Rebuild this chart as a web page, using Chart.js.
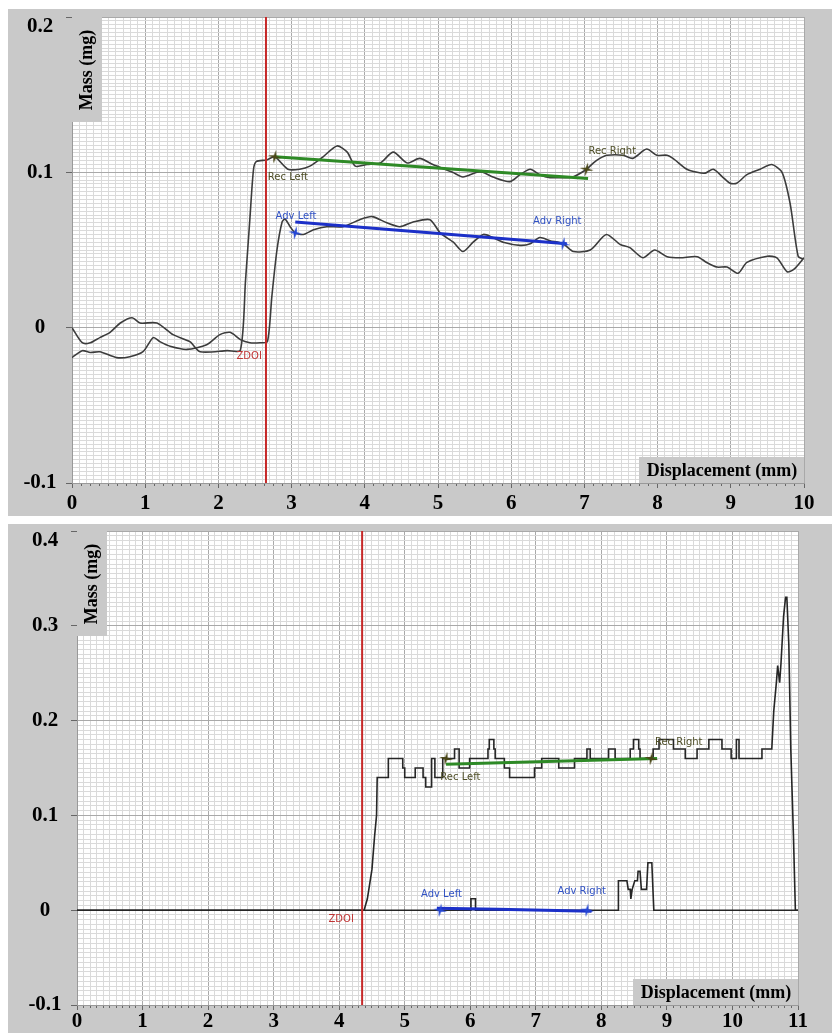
<!DOCTYPE html>
<html>
<head>
<meta charset="utf-8">
<script src="https://cdn.jsdelivr.net/npm/chart.js@4.4.1/dist/chart.umd.min.js"></script>
<style>
    body { margin: 0; background: #fff; width: 832px; height: 1033px; position: relative; overflow: hidden; }
    canvas { position: absolute; background: #c9c9c9; }
    #chartTop { left: 8px; top: 9px; }
    #chartBottom { left: 8px; top: 524px; }
</style>
</head>
<body>
<canvas id="chartTop" width="824" height="507"></canvas>
<canvas id="chartBottom" width="824" height="509"></canvas>
<script>
// ---------- top test : [displacement mm, mass mg] ----------
const topRecede = [
    [0, 0], [0.14, -0.0097], [0.25, -0.0097], [0.38, -0.0064], [0.52, -0.003], [0.66, 0.003],
    [0.82, 0.0064], [0.93, 0.003], [1.16, 0.003], [1.38, -0.0045], [1.61, -0.009], [1.75, -0.0155],
    [2.12, -0.0148], [2.30, -0.0145], [2.37, 0.03], [2.43, 0.07], [2.48, 0.102], [2.52, 0.107],
    [2.66, 0.108], [2.77, 0.110], [2.95, 0.102], [3.11, 0.102], [3.25, 0.104], [3.43, 0.110],
    [3.62, 0.117], [3.76, 0.113], [3.87, 0.104], [4.03, 0.105], [4.21, 0.106], [4.39, 0.113],
    [4.58, 0.106], [4.75, 0.109], [4.93, 0.105], [5.20, 0.100], [5.34, 0.097], [5.53, 0.100],
    [5.61, 0.100], [5.75, 0.097], [5.98, 0.094], [6.12, 0.0985], [6.26, 0.102], [6.39, 0.0985],
    [6.53, 0.0966], [6.71, 0.0966], [6.84, 0.097], [7.03, 0.102], [7.12, 0.106], [7.21, 0.109],
    [7.31, 0.111], [7.53, 0.111], [7.66, 0.109], [7.85, 0.115], [7.99, 0.111], [8.13, 0.111],
    [8.21, 0.109], [8.40, 0.102], [8.54, 0.100], [8.65, 0.0995], [8.76, 0.102], [8.90, 0.0965],
    [8.99, 0.093], [9.08, 0.093], [9.22, 0.0985], [9.40, 0.102], [9.56, 0.105], [9.70, 0.100],
    [9.81, 0.080], [9.92, 0.046], [9.99, 0.044]
];
const topAdvance = [
    [0, -0.0193], [0.14, -0.0148], [0.25, -0.016], [0.38, -0.0155], [0.61, -0.0193], [0.79, -0.0187],
    [0.97, -0.0155], [1.11, -0.0064], [1.20, -0.009], [1.34, -0.012], [1.57, -0.014], [1.84, -0.011],
    [2.02, -0.0045], [2.16, -0.003], [2.30, -0.0077], [2.43, -0.0097], [2.57, -0.0097], [2.67, -0.009],
    [2.73, 0.02], [2.80, 0.05], [2.87, 0.068], [2.91, 0.070], [2.98, 0.065], [3.05, 0.061],
    [3.16, 0.060], [3.30, 0.063], [3.48, 0.065], [3.70, 0.065], [3.93, 0.0695], [4.10, 0.0715],
    [4.30, 0.0675], [4.48, 0.065], [4.66, 0.068], [4.89, 0.0695], [5.03, 0.061], [5.21, 0.055],
    [5.34, 0.049], [5.48, 0.055], [5.62, 0.060], [5.75, 0.058], [5.89, 0.055], [6.12, 0.053],
    [6.26, 0.054], [6.39, 0.058], [6.53, 0.056], [6.71, 0.054], [6.85, 0.049], [7.08, 0.050],
    [7.30, 0.060], [7.49, 0.0535], [7.62, 0.0515], [7.80, 0.045], [7.96, 0.050], [8.13, 0.0457],
    [8.31, 0.045], [8.54, 0.0457], [8.67, 0.042], [8.81, 0.039], [8.95, 0.039], [9.10, 0.035],
    [9.22, 0.042], [9.50, 0.046], [9.63, 0.045], [9.77, 0.036], [9.86, 0.0375], [10.0, 0.045]
];
const topRecFit = [[2.77, 0.110], [7.05, 0.096]];
const topAdvFit = [[3.05, 0.068], [6.76, 0.054]];
const topRecMarks = [[2.77, 0.110], [7.03, 0.102]];
const topAdvMarks = [[3.05, 0.061], [6.71, 0.054]];
const topZdoi = 2.65;
const topNotes = [
    ['Rec Left', 2.95, 0.0966], ['Rec Right', 7.38, 0.1133],
    ['Adv Left', 3.06, 0.0715], ['Adv Right', 6.63, 0.0683], ['ZDOI', 2.42, -0.0187]
];

// ---------- bottom test ----------
const bottomRecede = [
    [0, 0], [4.38, 0], [4.43, 0.012], [4.50, 0.043], [4.54, 0.078], [4.57, 0.10], [4.58, 0.14],
    [4.75, 0.14], [4.75, 0.16], [4.97, 0.16], [4.97, 0.15], [5.00, 0.15], [5.00, 0.14], [5.16, 0.14],
    [5.16, 0.15], [5.28, 0.15], [5.28, 0.14], [5.32, 0.14], [5.32, 0.13], [5.41, 0.13], [5.41, 0.16],
    [5.46, 0.16], [5.46, 0.14], [5.58, 0.14], [5.58, 0.16], [5.76, 0.16], [5.76, 0.17], [5.83, 0.17],
    [5.83, 0.15], [5.99, 0.15], [5.99, 0.16], [6.27, 0.16], [6.27, 0.17], [6.29, 0.17], [6.29, 0.18],
    [6.36, 0.18], [6.36, 0.17], [6.38, 0.17], [6.38, 0.16], [6.52, 0.16], [6.52, 0.15], [6.60, 0.15],
    [6.60, 0.14], [6.98, 0.14], [6.98, 0.15], [7.09, 0.15], [7.09, 0.16], [7.35, 0.16], [7.35, 0.15],
    [7.59, 0.15], [7.59, 0.16], [7.78, 0.16], [7.78, 0.17], [7.83, 0.17], [7.83, 0.16], [8.11, 0.16],
    [8.11, 0.17], [8.21, 0.17], [8.21, 0.16], [8.44, 0.16], [8.44, 0.17], [8.49, 0.17], [8.49, 0.18],
    [8.57, 0.18], [8.57, 0.17], [8.59, 0.17], [8.59, 0.16], [8.79, 0.16], [8.79, 0.17], [8.88, 0.17],
    [8.88, 0.18], [9.10, 0.18], [9.10, 0.17], [9.28, 0.17], [9.28, 0.16], [9.46, 0.16], [9.46, 0.17],
    [9.64, 0.17], [9.64, 0.18], [9.84, 0.18], [9.84, 0.17], [9.98, 0.17], [9.98, 0.16], [10.06, 0.16],
    [10.06, 0.18], [10.10, 0.18], [10.10, 0.16], [10.45, 0.16], [10.45, 0.17], [10.60, 0.17],
    [10.63, 0.21], [10.67, 0.24], [10.69, 0.258], [10.72, 0.24], [10.74, 0.26], [10.78, 0.31],
    [10.81, 0.33], [10.83, 0.33], [10.86, 0.28], [10.89, 0.17], [10.93, 0.08], [10.96, 0], [11, 0]
];
const bottomAdvance = [
    [0, 0], [6.01, 0], [6.01, 0.012], [6.08, 0.012], [6.08, 0], [8.26, 0], [8.26, 0.031],
    [8.39, 0.031], [8.41, 0.022], [8.44, 0.022], [8.45, 0.012], [8.47, 0.022], [8.51, 0.031],
    [8.55, 0.031], [8.56, 0.041], [8.59, 0.041], [8.61, 0.022], [8.69, 0.022], [8.71, 0.05],
    [8.77, 0.05], [8.80, 0], [11, 0]
];
const bottomRecFit = [[5.63, 0.154], [8.85, 0.160]];
const bottomAdvFit = [[5.49, 0.002], [6.42, 0.001], [7.85, -0.001]];
const bottomRecMarks = [[5.63, 0.16], [8.76, 0.16]];
const bottomAdvMarks = [[5.54, 0], [7.78, 0]];
const bottomZdoi = 4.35;
const bottomNotes = [
    ['Rec Left', 5.85, 0.140], ['Rec Right', 9.18, 0.177],
    ['Adv Left', 5.56, 0.0168], ['Adv Right', 7.70, 0.020], ['ZDOI', 4.03, -0.0095]
];

const GRAY = '#c9c9c9';
const tickFont = { family: '"Liberation Serif"', size: 21, weight: 'bold', lineHeight: 1 };

const pts = arr => arr.map(([x, y]) => ({ x, y }));

// 4 pointed star for the cursor marks
function starMark(color) {
    const c = document.createElement('canvas');
    c.width = 15; c.height = 15;
    const g = c.getContext('2d');
    g.translate(7.5, 7.5);
    g.rotate(0.2);
    g.beginPath();
    for (let i = 0; i < 8; i++) {
        const r = i % 2 ? 1.8 : 7;
        const a = i * Math.PI / 4;
        g.lineTo(Math.sin(a) * r, -Math.cos(a) * r);
    }
    g.closePath();
    g.fillStyle = color;
    g.fill();
    return c;
}

const panel = {
    id: 'panel',
    beforeDraw(chart) {
        const { ctx, chartArea: a } = chart;
        ctx.save();
        ctx.fillStyle = '#fff';
        ctx.fillRect(a.left, a.top, a.right - a.left, a.bottom - a.top);
        ctx.restore();
    },
    afterDatasetsDraw(chart, args, opts) {
        const { ctx, chartArea: a } = chart;
        const x = chart.scales.x, y = chart.scales.y;
        ctx.save();
        ctx.textAlign = 'center';
        ctx.textBaseline = 'middle';
        ctx.font = '10px "DejaVu Sans"';
        opts.notes.forEach(([t, vx, vy]) => {
            ctx.fillStyle = t.startsWith('Rec') ? '#4f4f28' : t.startsWith('Adv') ? '#3152c4' : '#c03434';
            ctx.fillText(t, x.getPixelForValue(vx), y.getPixelForValue(vy));
        });

        // axis titles sit in grey boxes inside the plot
        ctx.fillStyle = GRAY;
        ctx.fillRect(a.left, a.top, 30, 105);
        ctx.fillRect(a.right - 165, a.bottom - 26, 165, 26);
        ctx.fillStyle = '#000';
        ctx.font = 'bold 18px "Liberation Serif"';
        ctx.fillText('Displacement (mm)', a.right - 82, a.bottom - 12);

        // y tick labels (top one pushed down like the original)
        ctx.font = 'bold 21px "Liberation Serif"';
        y.ticks.forEach(t => {
            const v = Math.round(t.value * 10) / 10;
            const py = Math.max(y.getPixelForValue(t.value), a.top + 10);
            ctx.fillText(v === 0 ? '0' : String(v), opts.labelX, py);
        });

        ctx.translate(a.left + 15, a.top + 53);
        ctx.rotate(-Math.PI / 2);
        ctx.font = 'bold 18px "Liberation Serif"';
        ctx.fillText('Mass (mg)', 0, 0);
        ctx.restore();
    }
};

function makeChart(id, o) {
    const datasets = [
        { data: pts(o.recMarks), pointStyle: starMark('#4a4718'), pointRadius: 6, showLine: false },
        { data: pts(o.advMarks), pointStyle: starMark('#2446d4'), pointRadius: 6, showLine: false },
        { data: pts(o.recFit), borderColor: '#2e8a26', borderWidth: 3, showLine: true, pointRadius: 0 },
        { data: pts(o.advFit), borderColor: '#1c30c8', borderWidth: 3, showLine: true, pointRadius: 0 },
        { data: [{ x: o.zdoi, y: o.yMin }, { x: o.zdoi, y: o.yMax }], borderColor: '#c62828', borderWidth: 2, showLine: true, pointRadius: 0 },
        { data: pts(o.recede), borderColor: o.curve, borderWidth: 1.6, showLine: true, pointRadius: 0, tension: o.tension },
        { data: pts(o.advance), borderColor: o.curve, borderWidth: 1.6, showLine: true, pointRadius: 0, tension: o.tension }
    ];

    return new Chart(document.getElementById(id), {
        type: 'scatter',
        data: { datasets },
        options: {
            responsive: false,
            animation: false,
            events: [],
            layout: { padding: { top: o.padTop, right: o.padRight, left: 0, bottom: 0 } },
            plugins: {
                legend: { display: false },
                tooltip: { enabled: false },
                panel: { notes: o.notes, labelX: o.labelX }
            },
            scales: {
                xMinor: {
                    type: 'linear', position: 'bottom', weight: -2, min: 0, max: o.xMax,
                    ticks: { display: false, stepSize: 0.1 },
                    grid: { color: '#dadada', drawTicks: false },
                    border: { display: false },
                    afterFit: s => { s.height = 0; }
                },
                xTick: {
                    type: 'linear', position: 'bottom', weight: -1, min: 0, max: o.xMax,
                    ticks: { display: false, stepSize: o.tickStep },
                    grid: { drawOnChartArea: false, tickLength: 3, tickColor: '#666' },
                    border: { display: false },
                    afterFit: s => { s.height = 0; }
                },
                x: {
                    type: 'linear', position: 'bottom', min: 0, max: o.xMax,
                    ticks: { stepSize: 1, font: tickFont, color: '#000', padding: o.xPad, maxRotation: 0 },
                    grid: { color: '#a9a9a9', tickLength: 5, tickColor: '#666' },
                    border: { color: '#999' },
                    afterFit: s => { s.height = o.xHeight; }
                },
                yMinor: {
                    type: 'linear', position: 'left', weight: -1, min: o.yMin, max: o.yMax,
                    ticks: { display: false, stepSize: o.yMinorStep },
                    grid: { color: '#dadada', drawTicks: false },
                    border: { display: false },
                    afterFit: s => { s.width = 0; }
                },
                y: {
                    type: 'linear', position: 'left', min: o.yMin, max: o.yMax,
                    ticks: { display: false, stepSize: 0.1 },
                    grid: { color: '#a9a9a9', tickLength: 6, tickColor: '#666' },
                    border: { color: '#999' },
                    afterFit: s => { s.width = o.yWidth; }
                }
            }
        },
        plugins: [panel]
    });
}

makeChart('chartTop', {
    recede: topRecede, advance: topAdvance, recFit: topRecFit, advFit: topAdvFit,
    recMarks: topRecMarks, advMarks: topAdvMarks, zdoi: topZdoi, notes: topNotes,
    xMax: 10, yMin: -0.1, yMax: 0.2, yMinorStep: 0.0025, tickStep: 0.125, tension: 0.25,
    curve: '#3c3c3c', padTop: 8, padRight: 28, xHeight: 33, yWidth: 64, xPad: 5, labelX: 32
});

makeChart('chartBottom', {
    recede: bottomRecede, advance: bottomAdvance, recFit: bottomRecFit, advFit: bottomAdvFit,
    recMarks: bottomRecMarks, advMarks: bottomAdvMarks, zdoi: bottomZdoi, notes: bottomNotes,
    xMax: 11, yMin: -0.1, yMax: 0.4, yMinorStep: 0.005, tickStep: 0.1, tension: 0,
    curve: '#262626', padTop: 7, padRight: 34, xHeight: 28, yWidth: 69, xPad: 1, labelX: 37
});
</script>
</body>
</html>
